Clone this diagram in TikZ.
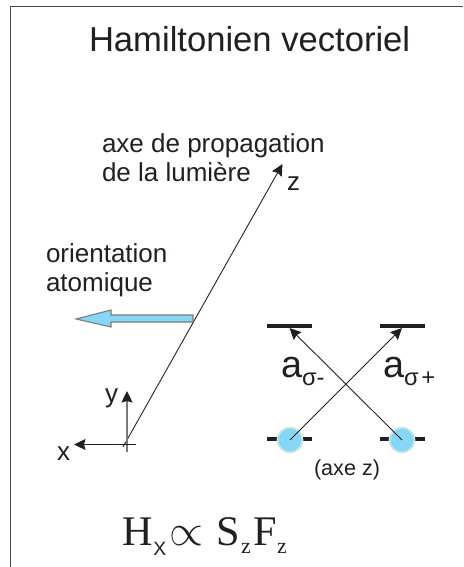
\documentclass[tikz,border=0pt]{standalone}
\usepackage{xcolor}
\usepackage{fontspec}
\setmainfont{Liberation Sans}
\newfontfamily\timesfont{Liberation Serif}
\usetikzlibrary{arrows.meta}
\definecolor{ink}{HTML}{231F20}
\definecolor{frame}{HTML}{4A4A4A}
\definecolor{axisgrey}{HTML}{7A7A7A}
\definecolor{skyblue}{HTML}{86D6F7}
\definecolor{halo}{HTML}{CFE8D8}
\newcommand{\fs}[1]{\fontsize{#1}{#1}\selectfont}

\begin{document}
\begin{tikzpicture}[x=0.02cm, y=-0.02cm,
    every node/.style={text=ink, inner sep=0pt, outer sep=0pt},
    label/.style={anchor=base west, align=left, font=\fs{14.8}},
    levelbar/.style={fill=ink, minimum width=0.9cm, minimum height=0.08cm},
    atom/.style={circle, fill=skyblue, draw=halo, line width=1pt, minimum size=0.5cm},
    axis/.style={draw=ink, line width=0.5pt, -{Stealth[length=0.23cm, width=0.22cm, inset=0.03cm]}}]
  \useasboundingbox (0,0) rectangle (463,567);
  % frame, only top and left
  \coordinate (framebl) at (10.5,567);
  \coordinate (frametl) at (10.5,6.5);
  \coordinate (frametr) at (463,6.5);
  \draw[frame, line width=0.6pt] (framebl) -- (frametl) -- (frametr);

  \node[label, font=\fs{19.7}] (title) at (89,52) {Hamiltonien vectoriel};
  \node[label] (propline) at (102,153) {axe de propagation};
  \node[label] (lumline) at (102,182) {de la lumière};
  \node[label] (orline) at (46,262) {orientation};
  \node[label] (atline) at (46,291) {atomique};

  % axes
  \coordinate (zstart) at (123,447);
  \coordinate (zend) at (282.5,164);
  \coordinate (ystart) at (127,452);
  \coordinate (yend) at (127,391);
  \coordinate (xstart) at (136,444.5);
  \coordinate (xend) at (74,444.5);
  \draw[axis] (zstart) -- (zend);
  \draw[axis, draw=axisgrey, line width=0.8pt, {Stealth[length=0.23cm, width=0.22cm, inset=0.03cm, color=ink]}-] (yend) -- (ystart);
  \draw[axis] (xstart) -- (xend);
  \node[label] (zlabel) at (287,191) {z};
  \node[label] (ylabel) at (105,402) {y};
  \node[label] (xlabel) at (57,460) {x};

  % big arrow
  \filldraw[fill=skyblue, draw=axisgrey, line width=0.6pt]
    (193,315) -- (111,315) -- (111,310) -- (76,319) -- (111,327) -- (111,322) -- (193,322) -- cycle;

  % levels
  \foreach \name/\xp/\yp in {upleft/289.5/326, upright/402/326, lowleft/289.5/439, lowright/402/439} {
    \node[levelbar] (\name) at (\xp,\yp) {};
  }
  \node[atom] (atomleft) at (290,440) {};
  \node[atom] (atomright) at (402,440) {};
  \draw[axis] (atomleft.center) -- (upright.south);
  \draw[axis] (atomright.center) -- (upleft.south);

  \node[label, font=\fs{21.5}] (aminus) at (281,377) {a\raisebox{-5pt}{\fs{13.5}σ-}};
  \node[label, font=\fs{21.5}] (aplus) at (383,377) {a\raisebox{-5pt}{\fs{13.5}σ\kern1.5pt+}};
  \node[label, font=\fs{12.3}] (axez) at (314,475) {(axe z)};

  \node[label, font=\timesfont\fs{24}] (hamil) at (122,545)
    {H\kern0.5pt\raisebox{-5.7pt}{\fontspec{Liberation Sans}\fs{11}X}\kern2pt$\propto$\kern7pt S\kern1pt\raisebox{-5pt}{\fs{12.5}z}\kern1.5pt F\raisebox{-5pt}{\fs{12.5}z}};
\end{tikzpicture}
\end{document}
